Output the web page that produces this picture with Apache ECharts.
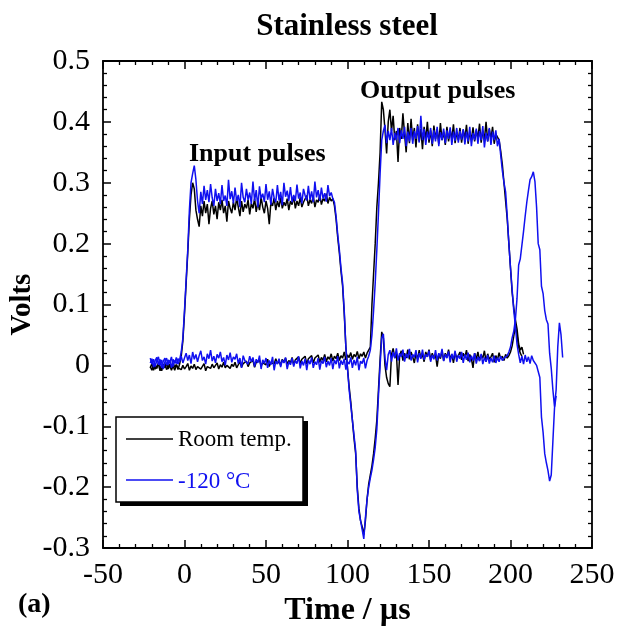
<!DOCTYPE html>
<html><head><meta charset="utf-8">
<script src="https://cdn.jsdelivr.net/npm/echarts@6/dist/echarts.min.js"></script>
<style>html,body{margin:0;padding:0;background:#fff}#c{width:618px;height:626px}</style>
</head><body><div id="c"></div>
<script>
// time axis of every trace: starts at -21 µs, one sample per µs
const timeStart = -21;
const timeStep = 1;

const xTicks = { min: -50, max: 250, interval: 50 };
const yTicks = { min: -0.3, max: 0.5, interval: 0.1 };

const legendNames = ['Room temp.', '-120 °C'];
const annotations = ['Input pulses', 'Output pulses'];

// Room temperature, input-side gauge (black)
const roomInput = [
-0.004,0.003,-0.008,0.001,-0.005,0.004,-0.002,-0.009,0.002,-0.004,
0.003,-0.006,0.000,-0.008,0.004,-0.003,0.001,-0.007,0.002,0.015,
0.04,0.085,0.135,0.185,0.24,0.28,0.3,0.29,0.255,0.24,
0.228,0.262,0.245,0.27,0.25,0.265,0.232,0.258,0.27,0.248,
0.262,0.24,0.268,0.255,0.272,0.25,0.262,0.236,0.27,0.258,
0.25,0.268,0.255,0.275,0.26,0.245,0.27,0.252,0.265,0.258,
0.272,0.248,0.266,0.258,0.274,0.252,0.268,0.255,0.276,0.26,
0.25,0.27,0.258,0.232,0.268,0.262,0.275,0.255,0.27,0.26,
0.276,0.258,0.268,0.262,0.274,0.255,0.27,0.264,0.278,0.258,
0.27,0.262,0.276,0.26,0.268,0.265,0.279,0.262,0.272,0.266,
0.278,0.26,0.272,0.268,0.28,0.264,0.274,0.27,0.282,0.266,
0.276,0.27,0.274,0.262,0.24,0.21,0.185,0.155,0.13,0.085,
0.03,-0.005,-0.035,-0.06,-0.09,-0.12,-0.145,-0.2,-0.235,-0.255,
-0.265,-0.278,-0.255,-0.22,-0.195,-0.18,-0.165,-0.145,-0.12,-0.09,
-0.04,0.01,0.055,0.045,0.0,-0.02,-0.03,-0.035,0.018,0.028,
0.012,0.02,-0.032,0.016,0.024,0.008,0.02,0.012,0.026,0.01,
0.022,0.014,0.004,0.02,0.01,0.025,0.012,0.018,0.006,0.022,
0.014,0.026,0.009,0.02,0.012,0.017,-0.002,0.019,0.011,0.024,
0.008,0.02,0.013,0.026,0.01,0.018,0.004,0.021,0.012,0.016,
0.022,0.009,0.02,0.013,0.025,0.007,0.018,0.011,-0.004,0.02,
0.01,0.022,0.008,0.017,0.012,0.024,0.006,0.019,0.01,0.014,
0.02,0.005,0.016,0.009,0.021,0.011,0.015,0.008,0.018,0.012,
0.016,0.022,0.032,0.048,0.065,0.05,0.03,0.02,0.015
];

// Room temperature, output-side gauge (black)
const roomOutput = [
-0.002,-0.008,0.001,-0.006,-0.003,0.002,-0.009,-0.001,-0.005,0.003,
-0.007,-0.002,0.002,-0.006,-0.001,-0.008,0.001,-0.004,-0.001,-0.007,
0.0,-0.006,-0.002,0.003,-0.008,-0.001,-0.005,0.002,-0.007,-0.002,
0.001,-0.006,-0.003,0.003,-0.009,-0.002,0.0,-0.005,0.002,-0.004,
-0.001,0.004,-0.006,0.001,-0.003,0.005,-0.004,0.0,0.003,-0.005,
0.002,-0.002,0.005,-0.004,0.001,0.006,-0.003,0.003,0.0,0.007,
-0.002,0.004,0.001,0.008,-0.003,0.005,0.002,0.009,-0.001,0.004,
0.006,0.001,0.01,-0.002,0.005,0.008,0.002,0.011,0.003,0.007,
0.0,0.01,0.005,0.012,0.002,0.008,0.004,0.013,0.001,0.009,
0.006,0.014,0.003,0.01,0.007,0.015,0.002,0.011,0.008,0.016,
0.004,0.012,0.009,0.017,0.005,0.013,0.008,0.018,0.006,0.014,
0.01,0.019,0.007,0.015,0.011,0.02,0.008,0.016,0.012,0.022,
0.009,0.017,0.013,0.021,0.01,0.018,0.014,0.023,0.011,0.019,
0.015,0.022,0.012,0.02,0.018,0.03,0.1,0.15,0.2,0.26,
0.3,0.35,0.433,0.42,0.387,0.348,0.4,0.42,0.385,0.41,
0.37,0.385,0.334,0.39,0.372,0.414,0.38,0.35,0.398,0.365,
0.405,0.37,0.39,0.358,0.396,0.368,0.388,0.355,0.392,0.37,
0.4,0.366,0.386,0.36,0.394,0.372,0.388,0.364,0.398,0.37,
0.384,0.362,0.392,0.368,0.386,0.372,0.396,0.365,0.383,0.37,
0.39,0.366,0.387,0.372,0.395,0.364,0.384,0.37,0.391,0.368,
0.386,0.373,0.397,0.366,0.385,0.371,0.4,0.368,0.388,0.372,
0.392,0.364,0.38,0.375,0.37,0.352,0.33,0.3,0.27,0.24,
0.2,0.16,0.12,0.095,0.075,0.06,0.035,0.025,0.03,0.018
];

// -120 °C, input-side gauge (blue)
const coldInput = [
0.012,0.002,0.010,-0.002,0.008,0.014,0.000,0.009,-0.006,0.006,
0.012,0.001,0.008,-0.004,0.010,0.004,0.013,0.002,0.009,0.022,
0.045,0.09,0.14,0.19,0.255,0.30,0.315,0.328,0.305,0.27,
0.25,0.285,0.265,0.295,0.272,0.288,0.268,0.298,0.275,0.262,
0.29,0.27,0.283,0.265,0.296,0.27,0.279,0.262,0.305,0.273,
0.286,0.266,0.292,0.27,0.28,0.26,0.3,0.276,0.268,0.29,
0.272,0.284,0.265,0.302,0.27,0.288,0.26,0.294,0.274,0.282,
0.268,0.298,0.272,0.286,0.264,0.29,0.275,0.268,0.296,0.271,
0.285,0.263,0.3,0.277,0.287,0.27,0.293,0.268,0.28,0.27,
0.297,0.274,0.284,0.266,0.29,0.279,0.271,0.295,0.272,0.286,
0.268,0.302,0.276,0.288,0.27,0.292,0.274,0.283,0.269,0.296,
0.278,0.284,0.274,0.268,0.245,0.215,0.19,0.16,0.135,0.09,
0.03,-0.005,-0.04,-0.065,-0.09,-0.115,-0.14,-0.205,-0.24,-0.255,
-0.27,-0.285,-0.25,-0.22,-0.2,-0.185,-0.172,-0.155,-0.135,-0.105,
-0.05,0.0,0.045,0.052,0.012,-0.008,0.018,0.025,0.006,0.022,
0.012,0.028,0.008,0.02,0.014,0.026,0.006,0.019,0.012,0.027,
0.008,0.018,0.013,0.025,0.005,0.02,0.011,0.026,0.009,0.018,
0.014,0.024,0.006,0.017,0.01,0.025,0.008,0.02,0.013,0.027,
0.007,0.018,0.012,0.023,0.005,0.019,0.01,0.024,0.006,0.017,
0.011,0.022,0.004,0.018,0.009,0.021,0.005,0.016,0.008,0.02,
0.003,0.014,0.007,0.019,0.002,0.013,0.006,0.017,0.003,0.012,
0.005,0.016,0.004,0.013,0.006,0.015,0.008,0.012,0.01,0.016,
0.022,0.03,0.045,0.056,0.075,0.11,0.165,0.175,0.178,0.22,
0.245,0.268,0.287,0.305,0.31,0.318,0.302,0.26,0.2,0.19,
0.13,0.118,0.09,0.075,0.068,0.02,-0.005,-0.04,-0.068,-0.04,
0.03,0.07,0.05,0.013
];

// -120 °C, output-side gauge (blue)
const coldOutput = [
0.004,0.011,-0.003,0.008,0.013,0.001,0.010,-0.004,0.007,0.012,
0.000,0.009,0.005,0.014,-0.002,0.008,0.003,0.011,0.006,0.015,
0.004,0.012,0.020,0.008,0.017,0.003,0.022,0.010,0.018,0.006,
0.016,0.024,0.008,0.014,0.002,0.019,0.011,0.025,0.007,0.015,
0.004,0.018,0.012,0.022,0.006,0.013,0.000,0.017,0.009,0.021,
0.005,0.014,0.010,0.019,0.003,0.012,-0.004,0.016,0.008,0.011,
0.002,0.015,0.006,0.013,-0.002,0.010,0.004,0.016,-0.006,0.009,
0.003,0.012,-0.004,0.008,0.001,0.014,-0.008,0.007,0.002,0.011,
-0.003,0.009,0.004,0.013,-0.006,0.006,0.001,0.012,-0.002,0.008,
0.003,0.015,-0.005,0.007,0.000,0.011,-0.008,0.009,0.002,0.013,
-0.004,0.006,0.001,0.012,-0.007,0.008,0.003,0.014,-0.003,0.007,
0.000,0.012,-0.006,0.009,0.002,0.015,-0.005,0.008,0.001,0.011,
-0.007,0.006,0.002,0.013,-0.004,0.009,0.000,0.014,-0.008,0.007,
0.003,0.012,-0.005,0.008,0.015,0.025,0.05,0.09,0.135,0.19,
0.25,0.315,0.37,0.385,0.395,0.365,0.385,0.37,0.39,0.362,
0.382,0.37,0.39,0.365,0.386,0.372,0.392,0.36,0.384,0.368,
0.39,0.364,0.385,0.372,0.393,0.366,0.41,0.37,0.388,0.362,
0.384,0.371,0.39,0.364,0.386,0.368,0.392,0.36,0.383,0.37,
0.389,0.365,0.386,0.372,0.391,0.362,0.384,0.369,0.39,0.366,
0.385,0.371,0.388,0.363,0.384,0.368,0.392,0.36,0.382,0.37,
0.389,0.364,0.385,0.37,0.393,0.358,0.382,0.368,0.39,0.362,
0.384,0.37,0.386,0.36,0.372,0.345,0.32,0.3,0.285,0.245,
0.2,0.16,0.125,0.09,0.065,0.035,0.018,0.004,0.015,0.002,
0.017,0.006,0.014,0.003,0.016,0.008,0.01,0.0,-0.01,-0.02,
-0.085,-0.11,-0.145,-0.16,-0.173,-0.19,-0.18,-0.125,-0.07,-0.05
];

const BLACK = '#000000';
const BLUE = '#1010f0';
const FONT = '"Liberation Serif", "Times New Roman", "DejaVu Serif", serif';

function toPairs(arr) { return arr.map((v, i) => [timeStart + i * timeStep, v]); }

const chart = echarts.init(document.getElementById('c'), null, { renderer: 'canvas' });

function xAxisDef(pos, labels) {
  return {
    type: 'value', position: pos, min: xTicks.min, max: xTicks.max, interval: xTicks.interval,
    axisLine: { onZero: false, lineStyle: { color: '#000', width: 1.8 } },
    axisTick: { show: true, inside: true, length: 8, lineStyle: { color: '#000', width: 1.5 } },
    minorTick: { show: true, splitNumber: 5, length: 4, lineStyle: { color: '#000', width: 1.3 } },
    splitLine: { show: false },
    axisLabel: { show: labels, color: '#000', fontFamily: FONT, fontSize: 30, margin: 12 },
    name: labels ? 'Time / µs' : '', nameLocation: 'middle', nameGap: 46,
    nameTextStyle: { color: '#000', fontFamily: FONT, fontSize: 32, fontWeight: 'bold' }
  };
}
function yAxisDef(pos, labels) {
  return {
    type: 'value', position: pos, min: yTicks.min, max: yTicks.max, interval: yTicks.interval,
    axisLine: { onZero: false, lineStyle: { color: '#000', width: 1.8 } },
    axisTick: { show: true, inside: true, length: 8, lineStyle: { color: '#000', width: 1.5 } },
    minorTick: { show: true, splitNumber: 5, length: 4, lineStyle: { color: '#000', width: 1.3 } },
    splitLine: { show: false },
    axisLabel: { show: labels, color: '#000', fontFamily: FONT, fontSize: 30, margin: 13 },
    name: labels ? 'Volts' : '', nameLocation: 'middle', nameGap: 66, nameRotate: 90,
    nameMoveOverlap: false,
    nameTextStyle: { color: '#000', fontFamily: FONT, fontSize: 29, fontWeight: 'bold' }
  };
}
function lineSeries(name, data, color) {
  return {
    type: 'line', name: name, data: toPairs(data), xAxisIndex: 0, yAxisIndex: 0,
    showSymbol: false, symbol: 'none', animation: false,
    lineStyle: { color: color, width: 1.5 }, itemStyle: { color: color },
    emphasis: { disabled: true }
  };
}

const option = {
  animation: false,
  backgroundColor: '#fff',
  grid: { left: 103, right: 26, top: 61, bottom: 78, containLabel: false, outerBoundsMode: 'none' },
  xAxis: [xAxisDef('bottom', true), xAxisDef('top', false)],
  yAxis: [yAxisDef('left', true), yAxisDef('right', false)],
  series: [
    lineSeries(legendNames[0], roomOutput, BLACK),
    lineSeries(legendNames[0], roomInput, BLACK),
    lineSeries(legendNames[1], coldInput, BLUE),
    lineSeries(legendNames[1], coldOutput, BLUE)
  ],
  graphic: [
    { type: 'text', x: 347, y: 27, style: { text: 'Stainless steel', font: 'bold 31px ' + FONT, fill: '#000', align: 'center', verticalAlign: 'middle' } },
    { type: 'text', left: 189, top: 141, style: { text: annotations[0], font: 'bold 26px ' + FONT, fill: '#000' } },
    { type: 'text', left: 360, top: 78, style: { text: annotations[1], font: 'bold 26px ' + FONT, fill: '#000' } },
    { type: 'text', left: 18, top: 591, style: { text: '(a)', font: 'bold 28px ' + FONT, fill: '#000' } },
    { type: 'rect', shape: { x: 120, y: 421, width: 188, height: 85 }, style: { fill: '#000' }, z: 100 },
    { type: 'rect', shape: { x: 116, y: 417, width: 187, height: 85 }, style: { fill: '#fff', stroke: '#000', lineWidth: 1.5 }, z: 101 },
    { type: 'line', shape: { x1: 126, y1: 439, x2: 173, y2: 439 }, style: { stroke: BLACK, lineWidth: 1.5 }, z: 102 },
    { type: 'text', x: 178, y: 440, style: { text: legendNames[0], font: '23px ' + FONT, fill: BLACK, verticalAlign: 'middle' }, z: 102 },
    { type: 'line', shape: { x1: 126, y1: 480, x2: 173, y2: 480 }, style: { stroke: BLUE, lineWidth: 1.5 }, z: 102 },
    { type: 'text', x: 178, y: 482, style: { text: legendNames[1], font: '23px ' + FONT, fill: BLUE, verticalAlign: 'middle' }, z: 102 }
  ]
};
chart.setOption(option);
</script></body></html>
